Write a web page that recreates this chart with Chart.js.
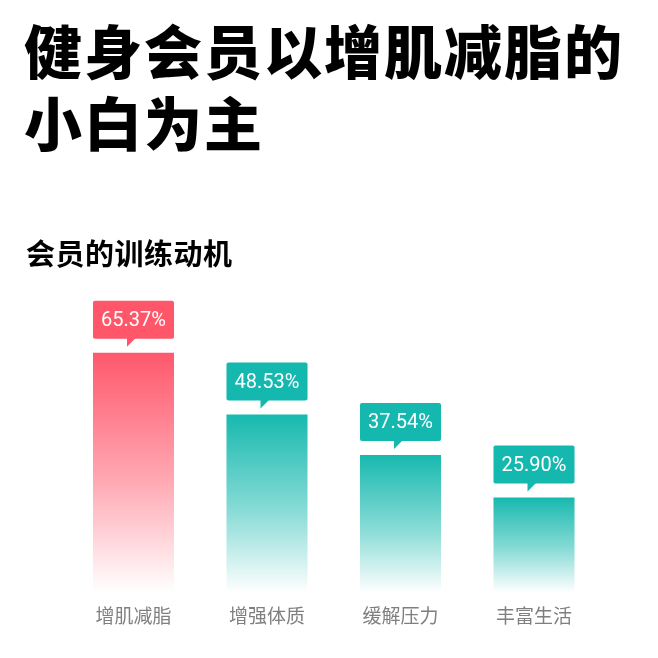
<!DOCTYPE html>
<html>
<head>
<meta charset="utf-8">
<script src="https://cdn.jsdelivr.net/npm/chart.js@4/dist/chart.umd.min.js"></script>
<style>
  html, body { margin: 0; padding: 0; background: #ffffff; }
  #wrap { position: relative; width: 658px; height: 658px; overflow: hidden; background: #fff; }
  #chart { position: absolute; left: 0; top: 0; }
  .title {
    position: absolute; left: 24px; top: 13px; margin: 0;
    font-family: "Noto Sans CJK SC", sans-serif; font-weight: 900;
    font-size: 58px; line-height: 72px; color: #000; letter-spacing: 2px;
  }
  .subtitle {
    position: absolute; left: 26px; top: 232px; margin: 0;
    font-family: "Noto Sans CJK SC", sans-serif; font-weight: 700;
    font-size: 29px; line-height: 40px; color: #000; letter-spacing: 0.5px;
  }
</style>
</head>
<body>
<div id="wrap">
  <canvas id="chart" width="658" height="658"></canvas>
  <h1 class="title">健身会员以增肌减脂的<br>小白为主</h1>
  <h2 class="subtitle">会员的训练动机</h2>
</div>
<script>
// Training motivations of gym members (share of members, %)
const categories = ['增肌减脂', '增强体质', '缓解压力', '丰富生活'];
const shares = [65.37, 48.53, 37.54, 25.90];
const barColors = ['#ff586c', '#17b9af', '#17b9af', '#17b9af'];
const boxColors = ['#ff5669', '#15b8ae', '#15b8ae', '#15b8ae'];

function hexToRgba(hex, a) {
  const n = parseInt(hex.slice(1), 16);
  return `rgba(${(n >> 16) & 255},${(n >> 8) & 255},${n & 255},${a})`;
}

// Each bar fades from its solid colour at the top to white at the baseline
function barGradient(ctx) {
  const chart = ctx.chart;
  const area = chart.chartArea;
  if (!area || ctx.type !== 'data') return barColors[ctx.dataIndex];
  const yScale = chart.scales.y;
  const top = yScale.getPixelForValue(shares[ctx.dataIndex]);
  const bottom = yScale.getPixelForValue(0);
  const c = barColors[ctx.dataIndex];
  const g = chart.ctx.createLinearGradient(0, top, 0, bottom);
  g.addColorStop(0, hexToRgba(c, 1));
  g.addColorStop(0.55, hexToRgba(c, 0.5));
  g.addColorStop(1, hexToRgba(c, 0));
  return g;
}

// Callout boxes with the value above each bar
const calloutPlugin = {
  id: 'callouts',
  afterDatasetsDraw(chart) {
    const ctx = chart.ctx;
    const meta = chart.getDatasetMeta(0);
    meta.data.forEach((bar, i) => {
      const w = bar.width;
      const left = bar.x - w / 2;
      const boxBottom = bar.y - 14;
      const boxH = 38;
      const boxTop = boxBottom - boxH;
      ctx.save();
      ctx.fillStyle = boxColors[i];
      ctx.beginPath();
      ctx.roundRect(left, boxTop, w, boxH, 2);
      ctx.fill();
      // pointer: right triangle with a vertical left edge
      const px = bar.x - 6.5;
      ctx.beginPath();
      ctx.moveTo(px, boxBottom - 1);
      ctx.lineTo(px + 9, boxBottom - 1);
      ctx.lineTo(px, boxBottom + 8);
      ctx.closePath();
      ctx.fill();
      ctx.fillStyle = '#ffffff';
      ctx.font = '400 20px Roboto, "DejaVu Sans", sans-serif';
      ctx.textAlign = 'center';
      ctx.textBaseline = 'middle';
      ctx.fillText(shares[i].toFixed(2) + '%', bar.x, boxTop + boxH / 2 + 1);
      ctx.restore();
    });
  }
};

new Chart(document.getElementById('chart'), {
  type: 'bar',
  data: {
    labels: categories,
    datasets: [{
      data: shares,
      backgroundColor: barGradient,
      borderWidth: 0,
      barPercentage: 0.607,
      categoryPercentage: 1
    }]
  },
  options: {
    responsive: false,
    animation: false,
    events: [],
    layout: { padding: { left: 66.75, right: 57.25, top: 298, bottom: 18.6 } },
    plugins: { legend: { display: false }, tooltip: { enabled: false } },
    scales: {
      x: {
        grid: { display: false, drawTicks: false },
        border: { display: false },
        ticks: {
          padding: 12,
          color: '#7f7f7f',
          font: { family: '"Noto Sans CJK SC", sans-serif', size: 19, lineHeight: 1.2 }
        }
      },
      y: {
        display: false,
        min: 0,
        max: 80.3
      }
    }
  },
  plugins: [calloutPlugin]
});
</script>
</body>
</html>
